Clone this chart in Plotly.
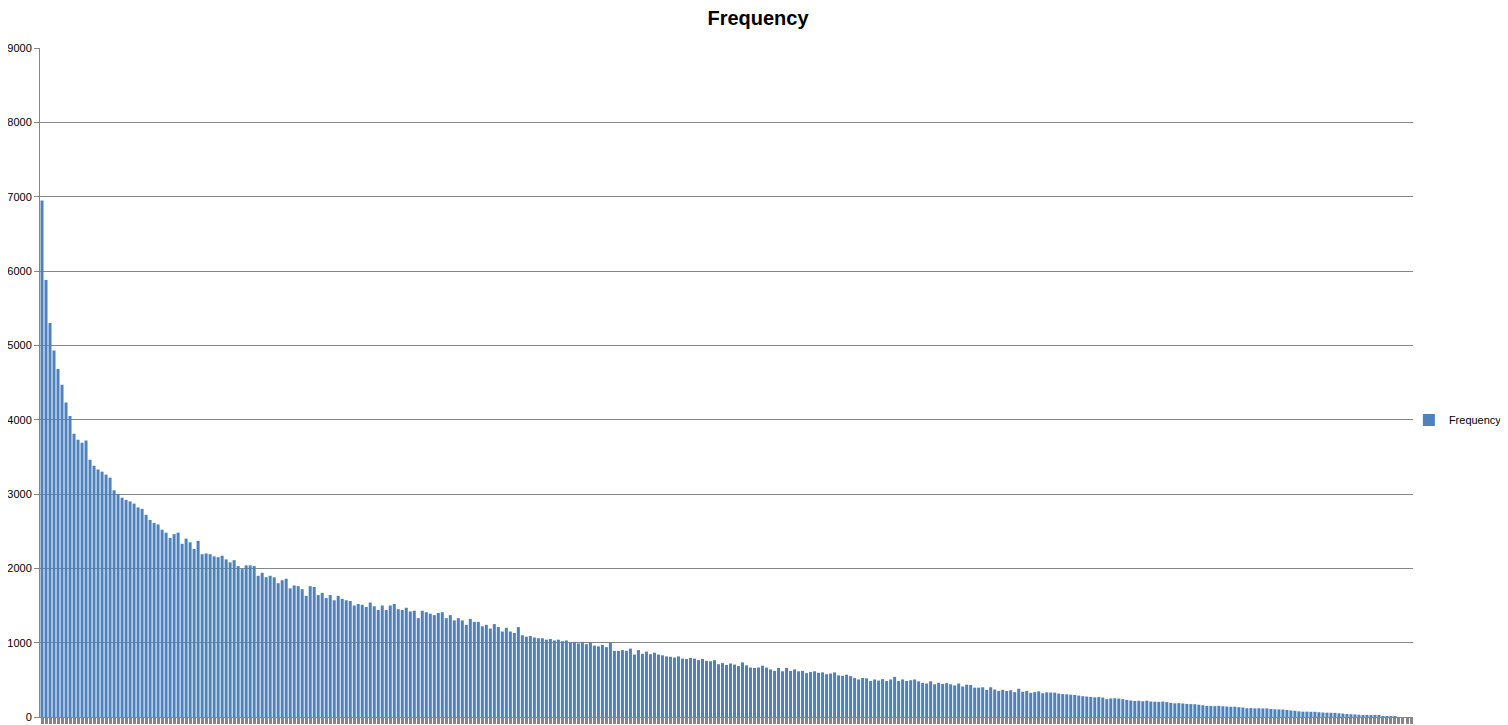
import plotly.graph_objects as go

# word frequencies, sorted descending
frequency = [
    6950, 5880, 5300, 4930, 4680, 4470, 4230, 4050, 3810, 3730,
    3690, 3720, 3460, 3380, 3330, 3300, 3260, 3220, 3050, 3000,
    2950, 2920, 2900, 2870, 2820, 2800, 2720, 2650, 2610, 2590,
    2520, 2480, 2410, 2460, 2480, 2330, 2400, 2350, 2260, 2370,
    2190, 2200, 2190, 2160, 2150, 2170, 2120, 2080, 2110, 2030,
    1990, 2040, 2040, 2030, 1900, 1940, 1880, 1900, 1880, 1800,
    1840, 1860, 1730, 1770, 1760, 1720, 1630, 1760, 1750, 1640,
    1670, 1600, 1640, 1570, 1630, 1590, 1570, 1560, 1500, 1520,
    1510, 1480, 1540, 1490, 1440, 1500, 1440, 1500, 1520, 1450,
    1440, 1470, 1420, 1430, 1330, 1430, 1410, 1390, 1370, 1400,
    1410, 1330, 1370, 1300, 1330, 1300, 1240, 1320, 1280, 1280,
    1220, 1240, 1190, 1250, 1210, 1150, 1200, 1150, 1130, 1210,
    1100, 1080, 1090, 1070, 1060, 1060, 1040, 1050, 1030, 1040,
    1020, 1030, 1000, 1010, 990, 1010, 980, 1000, 960, 950,
    970, 940, 1000, 890, 890, 900, 890, 920, 840, 900,
    850, 880, 845, 865, 840, 830, 815, 810, 800, 815,
    785, 780, 795, 785, 765, 780, 755, 750, 765, 710,
    725, 700, 720, 705, 685, 735, 695, 665, 660, 665,
    690, 665, 640, 620, 660, 615, 660, 620, 640, 615,
    620, 590, 605, 615, 595, 600, 575, 585, 600, 560,
    555, 570, 550, 525, 505, 525, 520, 485, 505, 490,
    510, 485, 505, 540, 485, 505, 485, 495, 505, 480,
    460, 450, 480, 440, 460, 445, 455, 440, 425, 450,
    410, 435, 430, 395, 395, 400, 365, 400, 370, 350,
    365, 350, 360, 335, 380, 340, 350, 325, 335, 345,
    320, 332, 330, 328, 315, 308, 305, 300, 296, 288,
    280, 275, 270, 265, 268, 262, 240, 250, 252, 248,
    240, 230, 222, 215, 218, 212, 220, 208, 206, 204,
    208, 200, 190, 184, 186, 182, 176, 174, 172, 165,
    158, 150, 148, 146, 150, 144, 140, 138, 138, 132,
    128, 118, 120, 116, 118, 115, 116, 108, 104, 102,
    100, 95, 88, 84, 76, 72, 72, 70, 70, 64,
    60, 58, 57, 56, 50, 46, 40, 37, 35, 30,
    27, 26, 22, 20, 14, 13, 12, 10, 8, 0,
    0, 0, 0,
]
ranks = list(range(1, len(frequency) + 1))

y_ticks = [0, 1000, 2000, 3000, 4000, 5000, 6000, 7000, 8000, 9000]

fig = go.Figure()
fig.add_trace(go.Bar(x=ranks,
                     y=frequency,
                     name="Frequency",
                     marker=dict(color="#4F81BD", line=dict(width=0)),
                     showlegend=True))

# page body has an 8px margin, so the figure is 8px smaller than the window
fig.update_layout(title=dict(text="<b>Frequency</b>", x=0.5, xanchor="center",
                             y=0.986, yanchor="middle",
                             font=dict(family="Liberation Sans", size=20, color="black")),
                  width=1500, height=717,
                  margin=dict(l=32, r=95, t=40, b=8, autoexpand=False),
                  plot_bgcolor="white",
                  paper_bgcolor="white",
                  bargap=0.25,
                  font=dict(family="Liberation Sans", size=11, color="black"),
                  legend=dict(x=0.997, y=0.444, xanchor="left", yanchor="middle",
                              font=dict(size=11), itemwidth=30,
                              bgcolor="rgba(0,0,0,0)"))

fig.update_xaxes(type="linear",
                 range=[0.5, len(frequency) + 0.5],
                 showticklabels=False,
                 ticks="outside", tickmode="linear", tick0=1, dtick=1,
                 ticklen=6, tickwidth=3, tickcolor="#868686",
                 showline=True, linecolor="#868686", linewidth=1,
                 showgrid=False, zeroline=False)
fig.update_yaxes(range=[0, 9000],
                 tickvals=y_ticks,
                 ticks="outside", ticklen=5, tickcolor="#868686",
                 showline=True, linecolor="#868686", linewidth=1,
                 showgrid=True, gridcolor="#868686", gridwidth=1,
                 zeroline=False)

fig.write_html("out.html")
